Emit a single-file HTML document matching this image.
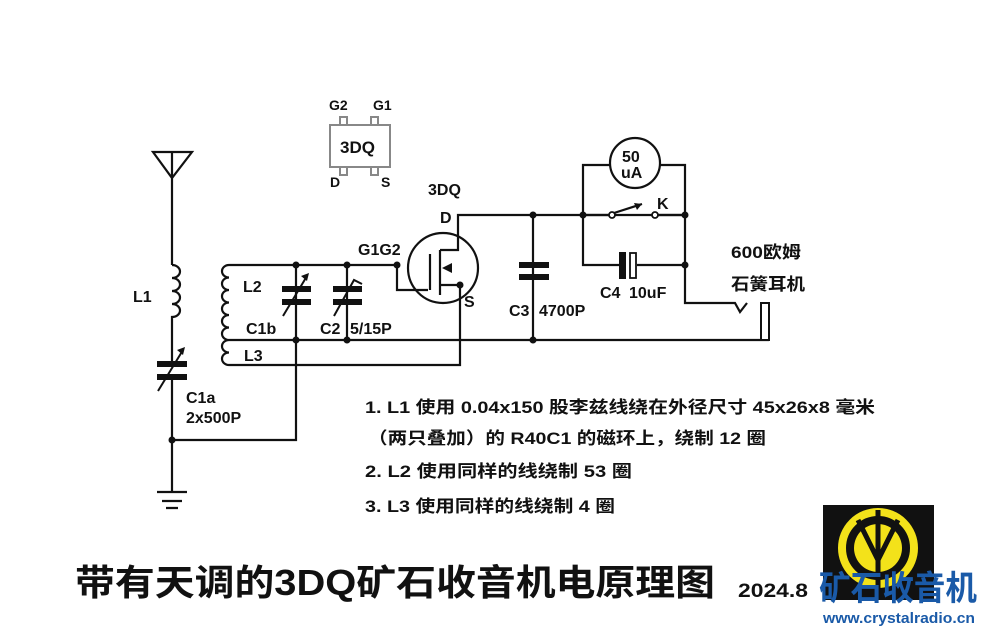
<!DOCTYPE html>
<html><head><meta charset="utf-8"><style>
body{margin:0;background:#fff;width:985px;height:630px;overflow:hidden}
svg{display:block}
text{font-family:"Liberation Sans","Noto Sans CJK SC",sans-serif;font-weight:bold;fill:#111}
</style></head><body>
<svg width="985" height="630" viewBox="0 0 985 630">
<g stroke="#111" stroke-width="2.2" fill="none">
<path d="M153 152 L192 152 L172 178 Z M172 152 L172 265"/>
<path d="M172 265 a8 6.5 0 0 1 0 13 a8 6.5 0 0 1 0 13 a8 6.5 0 0 1 0 13 a8 6.5 0 0 1 0 13 L172 365 M172 378 L172 492"/>
<path d="M157 492 H187 M162 501 H182 M166 508 H178"/>
<path d="M172 440 H296 V265"/>
<path d="M229 265 a7 6.25 0 0 0 0 12.5 a7 6.25 0 0 0 0 12.5 a7 6.25 0 0 0 0 12.5 a7 6.25 0 0 0 0 12.5 a7 6.25 0 0 0 0 12.5 a7 6.25 0 0 0 0 12.5 a7 6.25 0 0 0 0 12.5 a7 6.25 0 0 0 0 12.5"/>
<path d="M229 265 H397 M229 340 H769 M229 365 H460 V285"/>
<path d="M347 265 V340"/>
<path d="M397 265 V290 H428 M430 254 V290 M440 250 V295 M440 250 H458 V215 H685 M440 285 H460"/>
<circle cx="443" cy="268" r="35"/>
<path d="M533 215 V340"/>
<path d="M583 215 V165 H610 M660 165 H685 V303 H735 L740 312 L747 303"/>
<path d="M583 215 H609 M658 215 H685 M614 213 L642 204"/>
<path d="M583 215 V265 H619 M637 265 H685"/>
<circle cx="635" cy="163" r="25"/>
</g>
<path d="M642 204 l-8 -1 l3 7 z" fill="#111"/>
<path d="M442 268 l10 -5 l0 10 z" fill="#111"/>
<g fill="#111">
<rect x="157" y="361" width="30" height="6"/><rect x="157" y="374" width="30" height="6"/>
<rect x="282" y="286" width="29" height="6"/><rect x="282" y="299" width="29" height="6"/>
<rect x="333" y="286" width="29" height="6"/><rect x="333" y="299" width="29" height="6"/>
<rect x="519" y="262" width="30" height="6"/><rect x="519" y="274" width="30" height="6"/>
<rect x="619" y="252" width="7" height="27"/>
</g>
<rect x="630" y="253" width="6" height="25" fill="#fff" stroke="#111" stroke-width="1.8"/>
<rect x="761" y="303" width="8" height="37" fill="#fff" stroke="#111" stroke-width="2"/>
<g stroke="#111" stroke-width="2" fill="none">
<path d="M158 391 L183 350 M283 316 L307 276 M334 316 L354 280 l8 4"/>
</g>
<path d="M185 347 l-8 3 l6 5 z M309 273 l-8 3 l6 5 z" fill="#111"/>
<circle cx="612" cy="215" r="3" fill="#fff" stroke="#111" stroke-width="1.8"/>
<circle cx="655" cy="215" r="3" fill="#fff" stroke="#111" stroke-width="1.8"/>
<g fill="#111">
<circle cx="296" cy="265" r="3.5"/><circle cx="347" cy="265" r="3.5"/><circle cx="397" cy="265" r="3.5"/>
<circle cx="296" cy="340" r="3.5"/><circle cx="347" cy="340" r="3.5"/><circle cx="460" cy="285" r="3.5"/>
<circle cx="533" cy="215" r="3.5"/><circle cx="533" cy="340" r="3.5"/><circle cx="583" cy="215" r="3.5"/>
<circle cx="685" cy="215" r="3.5"/><circle cx="685" cy="265" r="3.5"/><circle cx="172" cy="440" r="3.5"/>
</g>
<g fill="#fff" stroke="#888" stroke-width="2">
<rect x="340" y="117" width="7" height="8"/><rect x="371" y="117" width="7" height="8"/>
<rect x="340" y="167" width="7" height="8"/><rect x="371" y="167" width="7" height="8"/>
<rect x="330" y="125" width="60" height="42"/>
</g>
<g font-size="14">
<text x="329" y="110">G2</text><text x="373" y="110">G1</text>
<text x="330" y="187">D</text><text x="381" y="187">S</text>
</g>
<text x="340" y="153" font-size="17">3DQ</text>
<g font-size="16">
<text x="428" y="195">3DQ</text><text x="440" y="223">D</text>
<text x="358" y="255">G1G2</text><text x="464" y="307">S</text>
<text x="133" y="302">L1</text><text x="243" y="292">L2</text>
<text x="246" y="334">C1b</text><text x="320" y="334">C2</text><text x="350" y="334">5/15P</text>
<text x="244" y="361">L3</text>
<text x="186" y="403">C1a</text><text x="186" y="423">2x500P</text>
<text x="509" y="316">C3</text><text x="539" y="316">4700P</text>
<text x="600" y="298">C4</text><text x="629" y="298">10uF</text>
<text x="657" y="209">K</text>
<text x="622" y="162">50</text><text x="621" y="178">uA</text>
</g>
<g font-size="17" lengthAdjust="spacingAndGlyphs">
<text x="731" y="258" textLength="70" lengthAdjust="spacingAndGlyphs">600欧姆</text>
<text x="731" y="290" textLength="74" lengthAdjust="spacingAndGlyphs">石簧耳机</text>
<text x="365" y="413" textLength="510" lengthAdjust="spacingAndGlyphs">1. L1 使用 0.04x150 股李兹线绕在外径尺寸 45x26x8 毫米</text>
<text x="368" y="444" textLength="398" lengthAdjust="spacingAndGlyphs">（两只叠加）的 R40C1 的磁环上，绕制 12 圈</text>
<text x="365" y="477" textLength="267" lengthAdjust="spacingAndGlyphs">2. L2 使用同样的线绕制 53 圈</text>
<text x="365" y="512" textLength="250" lengthAdjust="spacingAndGlyphs">3. L3 使用同样的线绕制 4 圈</text>
</g>
<text x="75" y="595" font-size="36" textLength="640" lengthAdjust="spacingAndGlyphs">带有天调的3DQ矿石收音机电原理图</text>
<text x="738" y="597" font-size="19" textLength="70" lengthAdjust="spacingAndGlyphs">2024.8</text>
<rect x="823" y="505" width="111" height="95" fill="#111"/>
<circle cx="878" cy="548" r="36" fill="none" stroke="#f3e21a" stroke-width="8"/>
<circle cx="878" cy="548" r="24" fill="#f3e21a"/>
<path d="M878 510 V590 M858 520 L878 560 L898 520" stroke="#111" stroke-width="5" fill="none"/>
<text x="819" y="600" font-size="34" style="fill:#1a5aa8" textLength="158" lengthAdjust="spacingAndGlyphs">矿石收音机</text>
<text x="823" y="623" font-size="15" style="fill:#1a5aa8" textLength="152" lengthAdjust="spacingAndGlyphs">www.crystalradio.cn</text>
</svg>
</body></html>
